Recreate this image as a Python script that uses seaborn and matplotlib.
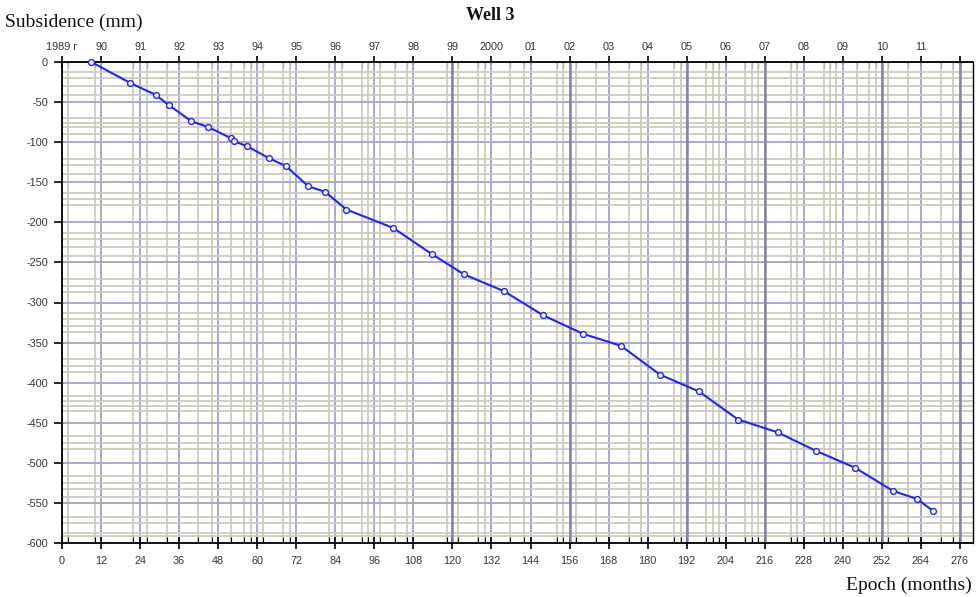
import matplotlib
matplotlib.use("Agg")
import matplotlib.pyplot as plt
import seaborn as sns
import pandas as pd
import numpy as np

# ---- data ----
months = [9.0, 20.9, 28.8, 32.9, 39.8, 44.9, 51.9, 53.0, 56.9, 63.6,
          68.9, 75.7, 80.9, 87.4, 101.8, 113.8, 123.6, 135.9, 147.9, 160.1,
          171.8, 183.8, 195.8, 207.8, 220.0, 231.7, 243.7, 255.4, 262.8, 267.7]
subsidence = [0, -26, -41, -54, -74, -81, -95, -99, -105, -120,
              -130, -155, -162, -184, -207, -240, -265, -286, -316, -339,
              -354, -390, -411, -446, -462, -485, -506, -535, -545, -560]

month_ticks = list(range(0, 277, 12))
month_labels = [str(m) for m in month_ticks]
year_labels = ["1989 г", "90", "91", "92", "93", "94", "95", "96", "97", "98",
               "99", "2000", "01", "02", "03", "04", "05", "06", "07", "08",
               "09", "10", "11", ""]
y_ticks = list(range(0, -601, -50))
y_labels = [str(v) for v in y_ticks]

minor_x = [1.9, 10.1, 21.9, 26.0, 32.2, 41.9, 46.0, 51.9, 55.9, 58.0, 61.9,
           68.0, 70.1, 82.2, 86.0, 92.1, 94.1, 97.7, 102.3, 105.9, 118.2,
           121.8, 128.0, 130.0, 137.7, 142.0, 152.0, 154.1, 157.9, 164.0,
           174.3, 178.0, 188.2, 190.2, 197.9, 200.0, 202.0, 209.9, 212.0,
           214.0, 224.0, 225.8, 234.2, 236.0, 237.9, 244.2, 248.1, 250.2,
           254.0, 260.1, 270.1, 273.9]
minor_y = [-12, -20, -30, -41, -70, -76, -81, -90, -121, -129, -140, -163,
           -171, -179, -213, -221, -231, -242, -271, -279, -287, -313, -321,
           -329, -337, -371, -379, -387, -417, -423, -429, -435, -467, -475,
           -483, -517, -525, -533, -542, -567, -575, -587, -591]
dark_x = [120, 156, 192, 216, 252, 276]

df = pd.DataFrame({"month": months, "subsidence": subsidence})

sns.set_theme(style="white")
plt.rcParams["font.family"] = ["Liberation Sans", "DejaVu Sans"]

fig = plt.figure(figsize=(9.79, 5.97), dpi=100)
ax = fig.add_axes([62/979, 1-543/597, (973-62)/979, (543-62)/597])

ax.set_xlim(0, 280)
ax.set_ylim(-600, 0)

# grid
ax.set_xticks(month_ticks)
ax.set_xticklabels(month_labels)
ax.set_xticks(minor_x, minor=True)
ax.set_yticks(y_ticks)
ax.set_yticklabels(y_labels)
ax.set_yticks(minor_y, minor=True)
ax.grid(which="minor", color="#cbcbbd", linewidth=1.3, zorder=0)
ax.grid(which="major", color="#a8a8cc", linewidth=1.4, zorder=0.5)
for xv in dark_x:
    ax.axvline(xv, color="#8383a6", linewidth=1.8, zorder=0.6)
ax.set_axisbelow(True)

sns.lineplot(data=df, x="month", y="subsidence", ax=ax, color="#2222ff",
             linewidth=1.5, marker="o", markersize=4.2,
             markerfacecolor="white", markeredgecolor="#2222ff",
             markeredgewidth=1.0, zorder=5, clip_on=False)

ax.set_xlabel("")
ax.set_ylabel("")

for s in ax.spines.values():
    s.set_color("black")
    s.set_linewidth(1.3)
    s.set_visible(True)
ax.spines["right"].set_linewidth(1.0)

ax.tick_params(axis="x", which="major", direction="inout", length=9, width=1.2,
               colors="black", labelsize=7.8, labelcolor="#333333", pad=5, bottom=True)
ax.tick_params(axis="x", which="minor", direction="in", length=4, width=0.8,
               colors="black", bottom=True)
ax.tick_params(axis="y", which="major", direction="out", length=6, width=1.2,
               colors="black", labelsize=7.8, labelcolor="#333333", pad=4, left=True)
ax.tick_params(axis="y", which="minor", length=0)

top = ax.secondary_xaxis("top")
top.set_xticks(month_ticks)
top.set_xticklabels(year_labels)
top.set_xticks(minor_x, minor=True)
top.tick_params(axis="x", which="major", direction="inout", length=9, width=1.2,
                colors="black", labelsize=7.8, labelcolor="#333333", pad=3)
top.tick_params(axis="x", which="minor", direction="in", length=4, width=0.8,
                colors="black")
top.spines["top"].set_visible(False)

serif = ["Liberation Serif", "DejaVu Serif"]
fig.text(490/979, 1-16/597, "Well 3", ha="center", va="center",
         fontsize=13, fontweight="bold", family=serif, color="#111111")
fig.text(5/979, 1-22/597, "Subsidence (mm)", ha="left", va="center",
         fontsize=14, family=serif, color="#111111")
fig.text(972/979, 1-585/597, "Epoch (months)", ha="right", va="center",
         fontsize=14, family=serif, color="#111111")

fig.savefig("out.png", dpi=100, facecolor="white")
